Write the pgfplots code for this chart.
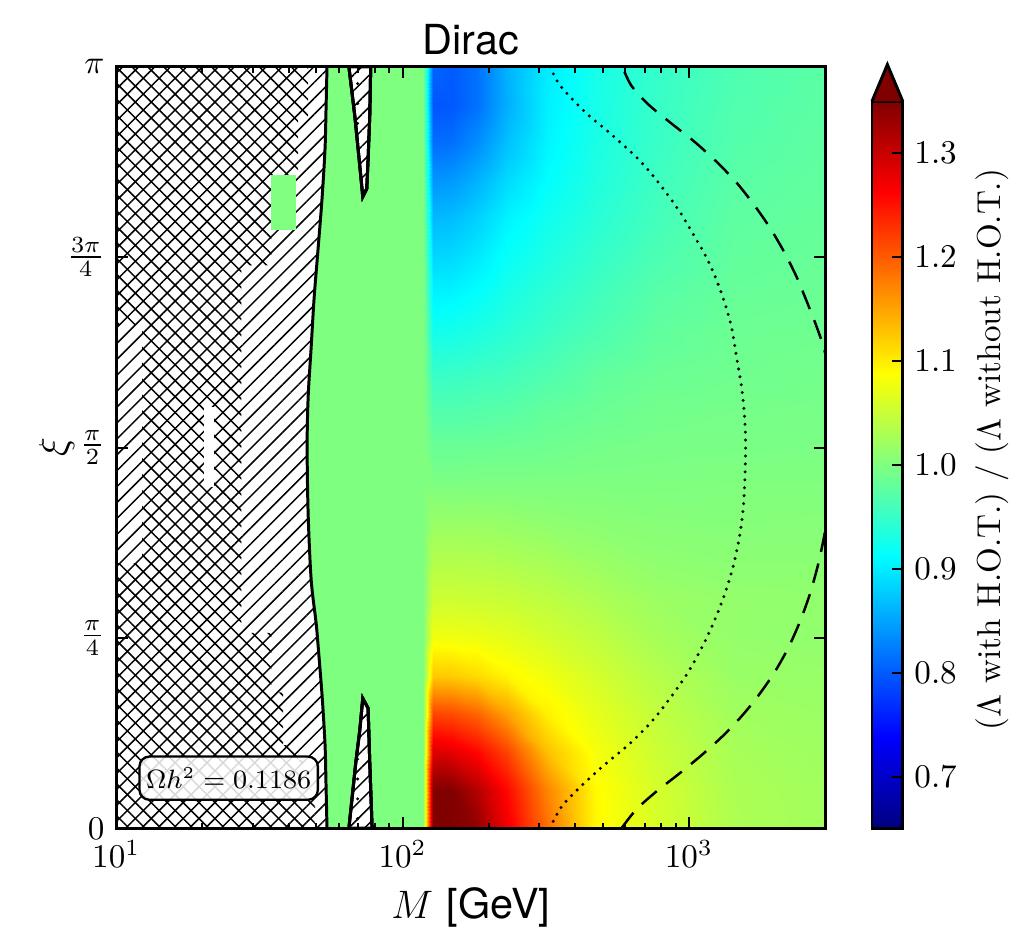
\documentclass[border=0pt]{standalone}
\usepackage{fontspec}
\newfontfamily\hv{TeX Gyre Heros}
\usepackage{pgfplots}
\pgfplotsset{compat=1.18}
\usetikzlibrary{patterns,patterns.meta}
\definecolor{cbg}{RGB}{128,255,128}
\definecolor{jetdark}{RGB}{128,0,0}
\begin{document}
\begin{tikzpicture}
\begin{axis}[
  name=main,
  scale only axis, width=214.2pt, height=230.1pt,
  xmode=log, xmin=10, xmax=3000, ymin=0, ymax=1,
  axis on top,
  colormap/jet, point meta min=0.65, point meta max=1.35,
  ytick={0,0.25,0.5,0.75,1},
  yticklabels={$0$,$\frac{\pi}{4}$,$\frac{\pi}{2}$,$\frac{3\pi}{4}$,$\pi$},
  tick align=inside, major tick length=3.6pt, minor tick length=1.8pt,
  axis line style={line width=0.9pt},
  every tick/.style={black, line width=0.6pt},
  xlabel={$M$ {\hv [GeV]}},
  xlabel shift=-0.8pt,
  title={\hv Dirac},
  title style={font=\fontsize{12.5}{14}\selectfont, yshift=-6pt},
  label style={font=\fontsize{12.5}{14}\selectfont},
  tick label style={font=\fontsize{10}{12}\selectfont},
  colorbar,
  colorbar style={
    scale only axis, width=9.3pt, height=219.6pt,
    at={(parent axis.south east)}, anchor=south west, xshift=5.5pt,
    ytick={0.7,0.8,0.9,1.0,1.1,1.2,1.3},
    yticklabel style={/pgf/number format/.cd, fixed, fixed zerofill, precision=1},
    ytick pos=right, yticklabel pos=right,
    tick align=inside, major tick length=3.3pt,
    axis line style={line width=0.9pt},
    tick label style={font=\fontsize{10}{12}\selectfont},
    extra description/.code={
      \fill[jetdark] (axis description cs:0,1) -- (axis description cs:0.5,1.0505) -- (axis description cs:1,1) -- cycle;
      \draw[line width=0.9pt] (axis description cs:0,1) -- (axis description cs:0.5,1.0505) -- (axis description cs:1,1);
    },
  },
]
% heat map
\addplot[surf, shader=interp, mesh/cols=11, point meta=\thisrow{v}] table[x=M,y=t] {
M t v
10 0 1.0
118.3 0 1.0
128.1 0 1.414
149.2 0 1.388
182.2 0 1.337
231.5 0 1.272
318.8 0 1.186
475.5 0 1.092
768 0 1.060
1456 0 1.031
3000 0 1.024
10 0.05 1.0
118.3 0.05 1.0
128.1 0.05 1.358
149.2 0.05 1.348
182.2 0.05 1.314
231.5 0.05 1.258
318.8 0.05 1.172
475.5 0.05 1.090
768 0.05 1.059
1456 0.05 1.030
3000 0.05 1.023
10 0.1 1.0
118.3 0.1 1.0
128.1 0.1 1.287
149.2 0.1 1.281
182.2 0.1 1.259
231.5 0.1 1.217
318.8 0.1 1.131
475.5 0.1 1.081
768 0.1 1.053
1456 0.1 1.027
3000 0.1 1.021
10 0.15 1.0
118.3 0.15 1.0
128.1 0.15 1.216
149.2 0.15 1.212
182.2 0.15 1.194
231.5 0.15 1.153
318.8 0.15 1.097
475.5 0.15 1.070
768 0.15 1.046
1456 0.15 1.023
3000 0.15 1.019
10 0.2 1.0
118.3 0.2 1.0
128.1 0.2 1.125
149.2 0.2 1.123
182.2 0.2 1.112
231.5 0.2 1.094
318.8 0.2 1.078
475.5 0.2 1.058
768 0.2 1.037
1456 0.2 1.018
3000 0.2 1.016
10 0.25 1.0
118.3 0.25 1.0
128.1 0.25 1.079
149.2 0.25 1.078
182.2 0.25 1.076
231.5 0.25 1.070
318.8 0.25 1.058
475.5 0.25 1.045
768 0.25 1.027
1456 0.25 1.014
3000 0.25 1.012
10 0.3 1.0
118.3 0.3 1.0
128.1 0.3 1.054
149.2 0.3 1.054
182.2 0.3 1.052
231.5 0.3 1.050
318.8 0.3 1.043
475.5 0.3 1.032
768 0.3 1.020
1456 0.3 1.014
3000 0.3 1.013
10 0.35 1.0
118.3 0.35 1.0
128.1 0.35 1.036
149.2 0.35 1.036
182.2 0.35 1.035
231.5 0.35 1.032
318.8 0.35 1.027
475.5 0.35 1.019
768 0.35 1.011
1456 0.35 1.008
3000 0.35 1.008
10 0.4 1.0
118.3 0.4 1.0
128.1 0.4 1.018
149.2 0.4 1.018
182.2 0.4 1.018
231.5 0.4 1.016
318.8 0.4 1.012
475.5 0.4 1.008
768 0.4 1.005
1456 0.4 1.004
3000 0.4 1.005
10 0.45 1.0
118.3 0.45 1.0
128.1 0.45 1.000
149.2 0.45 0.999
182.2 0.45 1.000
231.5 0.45 1.000
318.8 0.45 1.000
475.5 0.45 1.000
768 0.45 1.000
1456 0.45 1.001
3000 0.45 1.001
10 0.5 1.0
118.3 0.5 1.0
128.1 0.5 0.985
149.2 0.5 0.985
182.2 0.5 0.986
231.5 0.5 0.987
318.8 0.5 0.989
475.5 0.5 0.993
768 0.5 0.995
1456 0.5 0.996
3000 0.5 0.997
10 0.55 1.0
118.3 0.55 1.0
128.1 0.55 0.968
149.2 0.55 0.968
182.2 0.55 0.970
231.5 0.55 0.973
318.8 0.55 0.980
475.5 0.55 0.985
768 0.55 0.991
1456 0.55 0.993
3000 0.55 0.994
10 0.6 1.0
118.3 0.6 1.0
128.1 0.6 0.948
149.2 0.6 0.950
182.2 0.6 0.953
231.5 0.6 0.957
318.8 0.6 0.966
475.5 0.6 0.978
768 0.6 0.985
1456 0.6 0.989
3000 0.6 0.992
10 0.65 1.0
118.3 0.65 1.0
128.1 0.65 0.925
149.2 0.65 0.927
182.2 0.65 0.933
231.5 0.65 0.942
318.8 0.65 0.953
475.5 0.65 0.965
768 0.65 0.979
1456 0.65 0.987
3000 0.65 0.989
10 0.7 1.0
118.3 0.7 1.0
128.1 0.7 0.905
149.2 0.7 0.907
182.2 0.7 0.915
231.5 0.7 0.929
318.8 0.7 0.943
475.5 0.7 0.957
768 0.7 0.973
1456 0.7 0.983
3000 0.7 0.986
10 0.75 1.0
118.3 0.75 1.0
128.1 0.75 0.885
149.2 0.75 0.887
182.2 0.75 0.898
231.5 0.75 0.917
318.8 0.75 0.932
475.5 0.75 0.948
768 0.75 0.965
1456 0.75 0.980
3000 0.75 0.984
10 0.8 1.0
118.3 0.8 1.0
128.1 0.8 0.865
149.2 0.8 0.868
182.2 0.8 0.882
231.5 0.8 0.905
318.8 0.8 0.923
475.5 0.8 0.940
768 0.8 0.959
1456 0.8 0.977
3000 0.8 0.982
10 0.85 1.0
118.3 0.85 1.0
128.1 0.85 0.840
149.2 0.85 0.843
182.2 0.85 0.860
231.5 0.85 0.888
318.8 0.85 0.913
475.5 0.85 0.934
768 0.85 0.955
1456 0.85 0.974
3000 0.85 0.980
10 0.9 1.0
118.3 0.9 1.0
128.1 0.9 0.812
149.2 0.9 0.815
182.2 0.9 0.835
231.5 0.9 0.870
318.8 0.9 0.906
475.5 0.9 0.930
768 0.9 0.951
1456 0.9 0.970
3000 0.9 0.978
10 0.95 1.0
118.3 0.95 1.0
128.1 0.95 0.795
149.2 0.95 0.798
182.2 0.95 0.815
231.5 0.95 0.858
318.8 0.95 0.902
475.5 0.95 0.928
768 0.95 0.950
1456 0.95 0.968
3000 0.95 0.976
10 1 1.0
118.3 1 1.0
128.1 1 0.805
149.2 1 0.800
182.2 1 0.815
231.5 1 0.860
318.8 1 0.900
475.5 1 0.927
768 1 0.949
1456 1 0.966
3000 1 0.975
};
% excluded region, single hatch
\addplot[draw=none, fill=white, postaction={pattern={Lines[angle=45,distance=3.4pt,line width=0.45pt]}}]
 coordinates {(10,0) (10,1) (54.47,1) (54.04,0.944) (53.61,0.892) (52.34,0.827) (50.70,0.761) (49.1,0.696) (47.94,0.631) (46.80,0.566) (46.42,0.501) (46.80,0.413) (47.94,0.327) (49.89,0.270) (50.70,0.240) (52.34,0.175) (53.61,0.110) (54.04,0.057) (54.47,0)} -- cycle;
% cross hatch part
\addplot[draw=none, pattern={Lines[angle=-45,distance=3.4pt,line width=0.45pt]}]
 coordinates {(10,0) (10,0.3481) (12.31,0.3481) (12.31,0.661) (10,0.661) (10,1) (46.80,1) (46.80,0.9348) (43.19,0.9348) (43.19,0.8566) (34.81,0.8566) (34.81,0.7392) (27.38,0.7392) (27.38,0.2568) (34.81,0.2568) (34.81,0.1786) (38.31,0.1786) (38.31,0.1095) (43.19,0.1095) (43.19,0.0900) (44.97,0.0900) (44.97,0.0443) (49.50,0.0443) (49.50,0)} -- cycle;
\addplot[draw=none, fill=cbg] coordinates {(34.81,0.785) (42.51,0.785) (42.51,0.857) (34.81,0.857)} -- cycle;
\addplot[draw=none, fill=white] coordinates {(20.2,0.4485) (21.9,0.4485) (21.9,0.5528) (20.2,0.5528)} -- cycle;
% slivers
\addplot[draw=black, line width=0.9pt, preaction={fill=white}, preaction={pattern={Lines[angle=45,distance=3.4pt,line width=0.45pt]}}, pattern={Dots[distance=6pt,radius=0.5pt]}]
 coordinates {(64.94,1) (68.13,0.9348) (70.9,0.8696) (72.62,0.8292) (74.99,0.8396) (75.8,0.8788) (76.82,0.9348) (77.43,1)} -- cycle;
\addplot[draw=black, line width=0.9pt, preaction={fill=white}, preaction={pattern={Lines[angle=45,distance=3.4pt,line width=0.45pt]}}, pattern={Dots[distance=6pt,radius=0.5pt]}]
 coordinates {(64.94,0) (68.7,0.0874) (70.9,0.129) (72.62,0.1708) (75.8,0.1578) (76.82,0.0874) (78.3,0)} -- cycle;
% boundary
\addplot[black, line width=0.9pt, smooth] coordinates {(54.47,1) (54.04,0.944) (53.61,0.892) (52.34,0.827) (50.70,0.761) (49.1,0.696) (47.94,0.631) (46.80,0.566) (46.42,0.501) (46.80,0.413) (47.94,0.327) (49.89,0.270) (50.70,0.240) (52.34,0.175) (53.61,0.110) (54.04,0.057) (54.47,0)};
% dotted contour
\addplot[black, line width=1pt, line cap=round, dash pattern=on 0pt off 2.4pt, smooth] coordinates {
(326.5,0) (359.4,0.0287) (421.7,0.0561) (506.8,0.0834) (619.2,0.1108) (738.2,0.1395) (859,0.1708) (992,0.2047) (1118.5,0.2399) (1231,0.2738) (1334,0.3077) (1422,0.3416) (1492,0.3768) (1540,0.412) (1565,0.4485) (1578,0.5) (1565,0.5398) (1528,0.5789) (1468,0.618) (1410,0.6571) (1334,0.6897) (1241,0.7223) (1146,0.751) (1041,0.7784) (938,0.807) (838,0.8331) (750,0.8566) (665,0.8787) (590,0.897) (515,0.9166) (446,0.9361) (389,0.9583) (351,0.9778) (326.5,1)};
% dashed contours
\addplot[black, line width=0.75pt, dash pattern=on 6pt off 3.6pt, smooth] coordinates {
(580.7,0) (654.6,0.0248) (768.1,0.0482) (923.3,0.0717) (1109.6,0.0965) (1312.7,0.1213) (1527.6,0.1473) (1750.6,0.1747) (1989,0.2047) (2224.7,0.2373) (2448.5,0.2725) (2652.5,0.309) (2828,0.3468) (2967,0.3833) (3088,0.4198)};
\addplot[black, line width=0.75pt, dash pattern=on 6pt off 3.6pt, smooth] coordinates {
(3088,0.6023) (2944,0.6336) (2761,0.6636) (2568,0.6936) (2371,0.7249) (2154,0.7562) (1926,0.7875) (1696,0.8175) (1468,0.8475) (1251,0.8748) (1049,0.9009) (866,0.9257) (720.6,0.9505) (629,0.9752) (585.4,1)};
\node[draw=black, line width=0.7pt, rounded corners=3pt, fill=white, fill opacity=0.85, text opacity=1, inner xsep=2pt, inner ysep=3.5pt, font=\fontsize{7.6}{9}\selectfont] at (axis cs:24.7,0.066) {$\Omega h^2 = 0.1186$};
\end{axis}
\node[rotate=90, font=\fontsize{12.5}{14}\selectfont] at ([xshift=-18pt]main.west) {$\xi$};
\node[rotate=90, font=\fontsize{10}{12}\selectfont] at ([xshift=50.4pt, yshift=-0.6pt]main.east) {($\Lambda$ with H.O.T.) / ($\Lambda$ without H.O.T.)};
\path ([shift={(-35.1pt,-31.2pt)}]main.south west) rectangle ([shift={(270.9pt,250.2pt)}]main.south west);
\end{tikzpicture}
\end{document}
